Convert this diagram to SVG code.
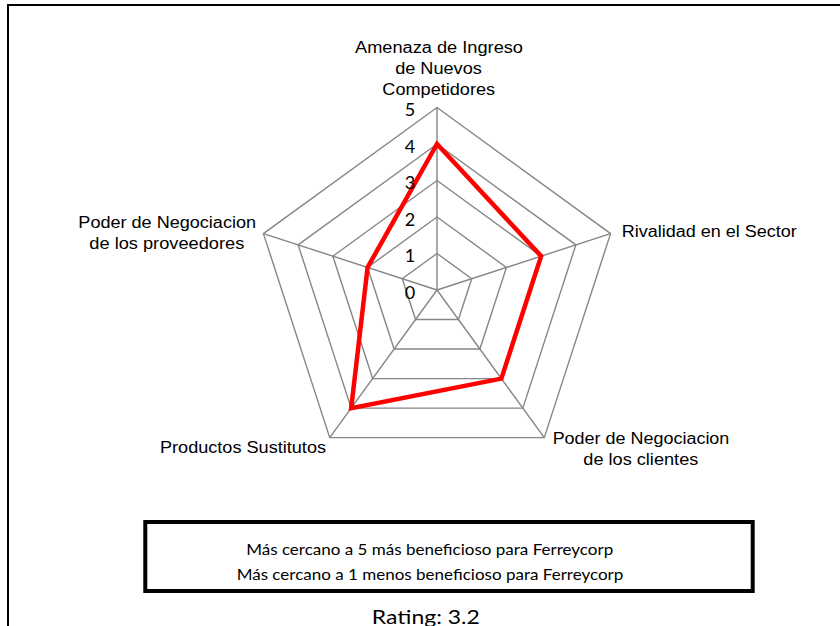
<svg xmlns="http://www.w3.org/2000/svg" width="840" height="626" viewBox="0 0 840 626">
<style>
.grid{fill:none;stroke:#868686;stroke-width:1.4}
.data{fill:none;stroke:#FF0000;stroke-width:4.5;stroke-linejoin:miter}
.ax{font-family:"Liberation Sans",Arial,sans-serif;font-size:16px;fill:#000;text-anchor:middle}
.tick{font-family:"Lato","Open Sans",sans-serif;font-size:18px;fill:#000;text-anchor:middle}
.leg{font-family:"Lato","Open Sans",sans-serif;font-size:15px;fill:#000;text-anchor:middle}
.frame{fill:none;stroke:#000}
</style>
<rect width="840" height="626" fill="#fff"/>
<g id="frame">
<polyline class="frame" stroke-width="2" points="8,626 8,5 840,5"/>
</g>
<g id="grid">
<polygon class="grid" points="437,253.5 471.71,278.72 458.45,319.53 415.55,319.53 402.29,278.72"/>
<polygon class="grid" points="437,217 506.43,267.44 479.91,349.06 394.09,349.06 367.57,267.44"/>
<polygon class="grid" points="437,180.5 541.14,256.16 501.36,378.59 372.64,378.59 332.86,256.16"/>
<polygon class="grid" points="437,144 575.85,244.88 522.82,408.12 351.18,408.12 298.15,244.88"/>
<polygon class="grid" points="437,107.5 610.57,233.6 544.27,437.65 329.73,437.65 263.43,233.6"/>
<path class="grid" d="M437,290 L437,107.5 M437,290 L610.57,233.6 M437,290 L544.27,437.65 M437,290 L329.73,437.65 M437,290 L263.43,233.6"/>
</g>
<g id="series">
<polygon class="data" points="437,144 541.14,256.16 501.36,378.59 351.18,408.12 367.57,267.44"/>
</g>
<g id="ticks">
<text class="tick" x="410" y="116">5</text>
<text class="tick" x="410" y="152.5">4</text>
<text class="tick" x="410" y="189">3</text>
<text class="tick" x="410" y="225.5">2</text>
<text class="tick" x="410" y="262">1</text>
<text class="tick" x="410" y="298.5">0</text>
</g>
<g id="axis-top">
<text class="ax" x="439" y="53.3" textLength="168" lengthAdjust="spacingAndGlyphs">Amenaza de Ingreso</text>
<text class="ax" x="438.5" y="74.3" textLength="86.7" lengthAdjust="spacingAndGlyphs">de Nuevos</text>
<text class="ax" x="438.7" y="95.3" textLength="112.7" lengthAdjust="spacingAndGlyphs">Competidores</text>
</g>
<g id="axis-right">
<text class="ax" x="709.2" y="237.3" textLength="175" lengthAdjust="spacingAndGlyphs">Rivalidad en el Sector</text>
</g>
<g id="axis-bottom-right">
<text class="ax" x="641" y="444" textLength="176.7" lengthAdjust="spacingAndGlyphs">Poder de Negociacion</text>
<text class="ax" x="640.8" y="465" textLength="115" lengthAdjust="spacingAndGlyphs">de los clientes</text>
</g>
<g id="axis-bottom-left">
<text class="ax" x="243" y="453.3" textLength="166" lengthAdjust="spacingAndGlyphs">Productos Sustitutos</text>
</g>
<g id="axis-left">
<text class="ax" x="167.2" y="228.3" textLength="177.7" lengthAdjust="spacingAndGlyphs">Poder de Negociacion</text>
<text class="ax" x="166.8" y="249.3" textLength="155" lengthAdjust="spacingAndGlyphs">de los proveedores</text>
</g>
<g id="legend">
<rect class="frame" stroke-width="4" x="145.3" y="522" width="607.4" height="69"/>
<text class="leg" x="429.7" y="555" textLength="367" lengthAdjust="spacingAndGlyphs">Más cercano a 5 más beneficioso para Ferreycorp</text>
<text class="leg" x="430" y="580" textLength="386.7" lengthAdjust="spacingAndGlyphs">Más cercano a 1 menos beneficioso para Ferreycorp</text>
</g>
<g id="rating">
<text class="leg" x="425.8" y="623.5" style="font-size:19px" textLength="108" lengthAdjust="spacingAndGlyphs">Rating: 3.2</text>
</g>
</svg>
